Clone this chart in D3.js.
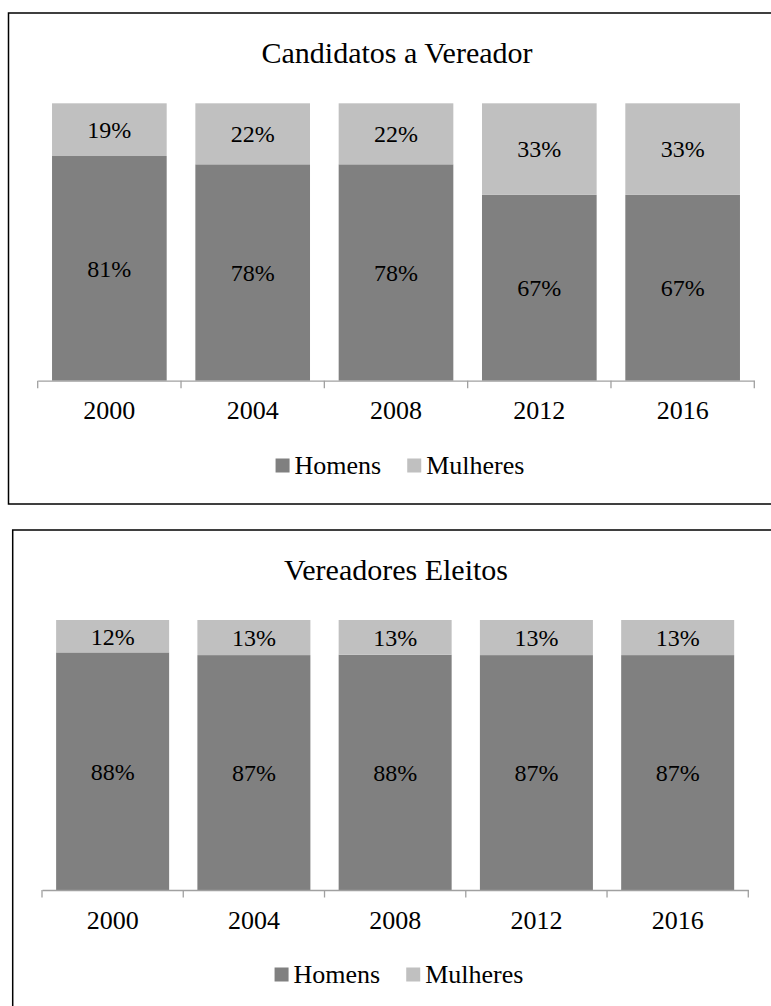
<!DOCTYPE html>
<html>
<head>
<meta charset="utf-8">
<script src="https://cdn.jsdelivr.net/npm/d3@7"></script>
<style>
  body { margin: 0; background: #fff; }
  svg { display: block; }
  text { font-family: "Liberation Serif", "Times New Roman", serif; fill: #000; }
</style>
</head>
<body>
<svg id="chart" width="771" height="1006"></svg>
<script>
// Share of men and women among council candidates and elected councillors
const years = ["2000", "2004", "2008", "2012", "2016"];
const seriesNames = ["Homens", "Mulheres"];
const candidatosHomens = [81, 78, 78, 67, 67];
const candidatosMulheres = [19, 22, 22, 33, 33];
const eleitosHomens = [88, 87, 88, 87, 87];
const eleitosMulheres = [12, 13, 13, 13, 13];

const colors = { Homens: "#808080", Mulheres: "#c0c0c0" };

// Layout of each framed panel
const panels = [
  {
    title: "Candidatos a Vereador",
    homens: candidatosHomens, mulheres: candidatosMulheres,
    frame: { x: 8.5, y: 13, w: 830, h: 491 },
    plot: { x0: 37.7, x1: 754.3, top: 103.3, bottom: 380.7 },
    titleX: 397, titleY: 63, labelY: 419, legendY: 474, legendCx: 400
  },
  {
    title: "Vereadores Eleitos",
    homens: eleitosHomens, mulheres: eleitosMulheres,
    frame: { x: 12.7, y: 530, w: 830, h: 520 },
    plot: { x0: 42, x1: 748.3, top: 620, bottom: 890 },
    titleX: 396, titleY: 580, labelY: 929, legendY: 983, legendCx: 399
  }
];

const svg = d3.select("#chart");

panels.forEach(p => {
  const g = svg.append("g");

  g.append("rect")
    .attr("x", p.frame.x).attr("y", p.frame.y)
    .attr("width", p.frame.w).attr("height", p.frame.h)
    .attr("fill", "#fff").attr("stroke", "#000").attr("stroke-width", 1.5);

  g.append("text")
    .attr("x", p.titleX).attr("y", p.titleY)
    .attr("text-anchor", "middle")
    .style("font-size", "30px")
    .text(p.title);

  const rows = years.map((y, i) => ({ year: y, Homens: p.homens[i], Mulheres: p.mulheres[i] }));
  // 100% stacked columns
  const stacked = d3.stack().keys(seriesNames).offset(d3.stackOffsetExpand)(rows);

  const x = d3.scaleBand().domain(years)
    .range([p.plot.x0, p.plot.x1])
    .paddingInner(0.2).paddingOuter(0.1);
  const y = d3.scaleLinear().domain([0, 1]).range([p.plot.bottom, p.plot.top]);

  stacked.forEach(layer => {
    const key = layer.key;
    const lg = g.append("g");
    lg.selectAll("rect").data(layer).join("rect")
      .attr("x", d => x(d.data.year))
      .attr("width", x.bandwidth())
      .attr("y", d => y(d[1]))
      .attr("height", d => y(d[0]) - y(d[1]))
      .attr("fill", colors[key]);
    lg.selectAll("text").data(layer).join("text")
      .attr("x", d => x(d.data.year) + x.bandwidth() / 2)
      .attr("y", d => (y(d[0]) + y(d[1])) / 2)
      .attr("dy", "0.35em")
      .attr("text-anchor", "middle")
      .style("font-size", "24px")
      .text(d => d.data[key] + "%");
  });

  // category axis
  const axis = g.append("g")
    .attr("transform", `translate(0,${p.plot.bottom})`)
    .call(d3.axisBottom(x).tickSizeInner(0).tickSizeOuter(0));
  axis.select(".domain").attr("stroke", "#a0a0a0").attr("stroke-width", 1.3);
  axis.selectAll(".tick text")
    .attr("y", p.labelY - p.plot.bottom).attr("dy", 0)
    .style("font-size", "26px")
    .style("font-family", '"Liberation Serif", "Times New Roman", serif')
    .attr("fill", "#000");

  // tick marks between categories
  const bounds = d3.range(years.length + 1).map(i => p.plot.x0 + i * x.step());
  g.selectAll(".bound").data(bounds).join("line")
    .attr("x1", d => d).attr("x2", d => d)
    .attr("y1", p.plot.bottom).attr("y2", p.plot.bottom + 7.5)
    .attr("stroke", "#a0a0a0").attr("stroke-width", 1.3);

  // legend
  const leg = g.append("g");
  const items = seriesNames.map(n => {
    const it = leg.append("g");
    it.append("rect").attr("width", 14).attr("height", 14).attr("y", p.legendY - 15.5).attr("fill", colors[n]);
    const t = it.append("text").attr("x", 19).attr("y", p.legendY)
      .style("font-size", "26px").text(n);
    return { g: it, w: 19 + t.node().getComputedTextLength() };
  });
  const gap = 26;
  const total = d3.sum(items, d => d.w) + gap * (items.length - 1);
  let cx = p.legendCx - total / 2;
  items.forEach(it => {
    it.g.attr("transform", `translate(${cx},0)`);
    cx += it.w + gap;
  });
});
</script>
</body>
</html>
